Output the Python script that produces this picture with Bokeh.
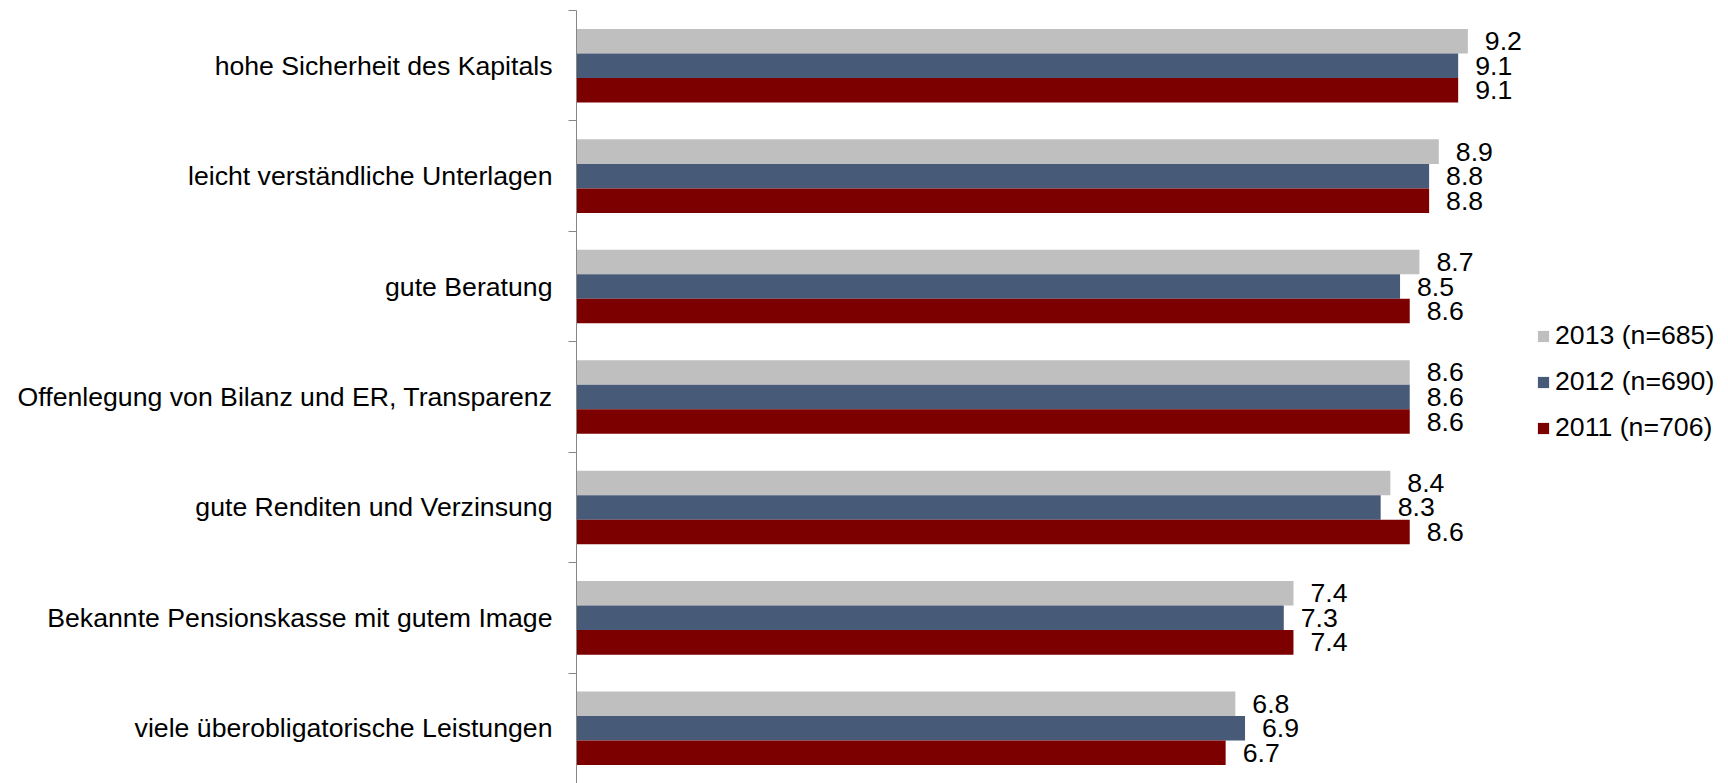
from bokeh.plotting import figure
from bokeh.models import (ColumnDataSource, Range1d, FixedTicker, Legend, LegendItem, LinearAxis)
from bokeh.transform import dodge
from bokeh.core.properties import value
from bokeh.embed import file_html
from bokeh.resources import INLINE

categories = [
    "hohe Sicherheit des Kapitals",
    "leicht verständliche Unterlagen",
    "gute Beratung",
    "Offenlegung von Bilanz und ER, Transparenz",
    "gute Renditen und Verzinsung",
    "Bekannte Pensionskasse mit gutem Image",
    "viele überobligatorische Leistungen",
]
series_names = ["2013 (n=685)", "2012 (n=690)", "2011 (n=706)"]
v2013 = [9.2, 8.9, 8.7, 8.6, 8.4, 7.4, 6.8]
v2012 = [9.1, 8.8, 8.5, 8.6, 8.3, 7.3, 6.9]
v2011 = [9.1, 8.8, 8.6, 8.6, 8.6, 7.4, 6.7]

colors = ["#BFBFBF", "#475A77", "#7D0000"]
offsets = [-0.222, 0.0, 0.222]
FONT = "Liberation Sans"
FS = "26.67px"

ypos = [i + 0.5 for i in range(len(categories))]

p = figure(width=1728, height=783, output_backend="svg", toolbar_location=None,
           x_range=Range1d(0, 11.89), y_range=Range1d(len(categories), 0),
           x_axis_location=None, y_axis_location=None,
           min_border_left=576, min_border_right=0, min_border_top=10, min_border_bottom=0)
p.outline_line_color = None
p.xgrid.visible = False
p.ygrid.visible = False

items = []
for name, vals, col, off in zip(series_names, [v2013, v2012, v2011], colors, offsets):
    src = ColumnDataSource(dict(y=ypos, v=vals, lbl=["%.1f" % x for x in vals]))
    r = p.hbar(y=dodge("y", off, range=p.y_range), right="v", left=0, height=0.222,
               source=src, fill_color=col, line_color=None)
    p.text(x="v", y=dodge("y", off, range=p.y_range), text="lbl", source=src,
           x_offset=17, text_baseline="middle", text_align="left",
           text_font=value(FONT), text_font_size=FS, text_color="black")
    items.append(LegendItem(label=name, renderers=[r]))

yaxis = LinearAxis(
    ticker=FixedTicker(ticks=ypos, minor_ticks=list(range(len(categories) + 1))),
    major_label_overrides={y: c for y, c in zip(ypos, categories)},
    major_tick_out=0, major_tick_in=0,
    minor_tick_out=8, minor_tick_in=0,
    minor_tick_line_color="#868686",
    axis_line_color="#868686", axis_line_width=1,
    major_label_standoff=16,
    major_label_text_font=FONT, major_label_text_font_size=FS,
    major_label_text_color="black",
)
p.add_layout(yaxis, "left")

legend = Legend(items=items, location=(960, 340), orientation="vertical",
                glyph_width=14, glyph_height=14, label_height=30, spacing=15,
                label_standoff=5, padding=0, margin=0,
                border_line_color=None, background_fill_alpha=0,
                label_text_font=FONT, label_text_font_size=FS, label_text_color="black")
p.add_layout(legend)

open("out.html", "w").write(file_html(p, INLINE))
